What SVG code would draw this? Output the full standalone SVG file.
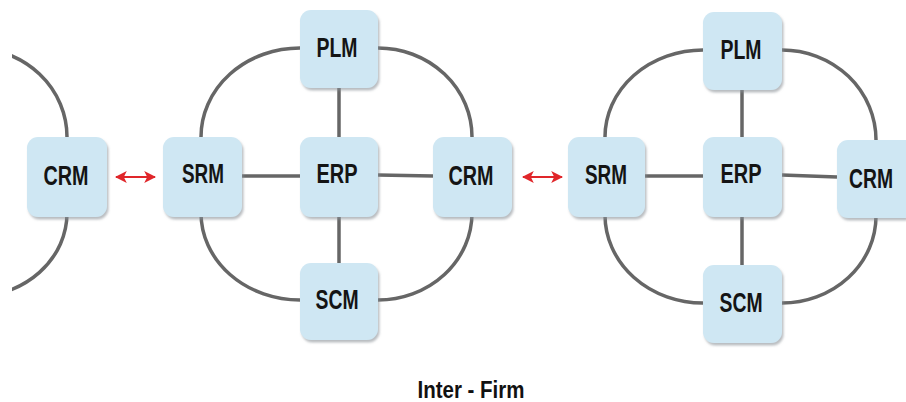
<svg xmlns="http://www.w3.org/2000/svg" width="906" height="402" viewBox="0 0 906 402">
<defs>
<style>
.box{fill:#cfe7f3;filter:url(#sh)}
.lbl{font-family:"Liberation Sans",Arial,sans-serif;font-weight:bold;font-size:27px;fill:#141414;text-anchor:middle}
.ln{fill:none;stroke:#666;stroke-width:3.5;stroke-linecap:butt}
.red{fill:none;stroke:#e0262a;stroke-width:2;marker-start:url(#ah);marker-end:url(#ah)}
.title{font-family:"Liberation Sans",Arial,sans-serif;font-weight:bold;font-size:23px;fill:#111;text-anchor:middle}
</style>
<filter id="sh" x="-10%" y="-10%" width="130%" height="130%">
<feDropShadow dx="1.5" dy="2.5" stdDeviation="1.2" flood-color="#8a9096" flood-opacity="0.6"/>
</filter>
<clipPath id="cl"><rect x="12" y="0" width="894" height="402"/></clipPath>
<marker id="ah" viewBox="0 0 10 10" refX="9" refY="5" markerWidth="6" markerHeight="6" orient="auto-start-reverse" markerUnits="strokeWidth">
<path d="M0,0 L10,5 L0,10 L2.5,5 Z" fill="#e0262a"/>
</marker>
</defs>
<rect width="906" height="402" fill="#fff"/>
<g id="connectors">
<g clip-path="url(#cl)">
<path class="ln" d="M67,137 A94,89 0 0 0 -27,48"/>
<path class="ln" d="M67,213 A94,84 0 0 1 -27,297"/>
</g>
<path class="ln" d="M201,137 A99,89 0 0 1 300,48"/>
<path class="ln" d="M378,48 A94,89 0 0 1 472,137"/>
<path class="ln" d="M472,213 A94,87 0 0 1 378,300"/>
<path class="ln" d="M300,300 A99,87 0 0 1 201,213"/>
<path class="ln" d="M242,176 L300,176"/>
<path class="ln" d="M378,175 L433,176"/>
<path class="ln" d="M339,88 L339,137"/>
<path class="ln" d="M339,216 L339,263"/>
<path class="ln" d="M605,137 A98,87 0 0 1 703,50"/>
<path class="ln" d="M782,50 A94,90 0 0 1 876,140"/>
<path class="ln" d="M876,216 A94,87 0 0 1 782,303"/>
<path class="ln" d="M703,303 A98,88 0 0 1 605,215"/>
<path class="ln" d="M645,176 L703,176"/>
<path class="ln" d="M782,175 L837,177"/>
<path class="ln" d="M742,90 L742,137"/>
<path class="ln" d="M742,216 L742,265"/>
<path class="red" d="M116,177 L155,177"/>
<path class="red" d="M523,177 L562,177"/>
</g>
<g id="crm-left"><rect class="box" x="27" y="137" width="80" height="80" rx="11"/><text class="lbl" x="66" y="185" textLength="45" lengthAdjust="spacingAndGlyphs">CRM</text></g>
<g id="srm-1"><rect class="box" x="163" y="137" width="79" height="80" rx="11"/><text class="lbl" x="203" y="183" textLength="42" lengthAdjust="spacingAndGlyphs">SRM</text></g>
<g id="plm-1"><rect class="box" x="300" y="10" width="78" height="78" rx="11"/><text class="lbl" x="337" y="57" textLength="41" lengthAdjust="spacingAndGlyphs">PLM</text></g>
<g id="erp-1"><rect class="box" x="300" y="137" width="78" height="80" rx="11"/><text class="lbl" x="337" y="183" textLength="41" lengthAdjust="spacingAndGlyphs">ERP</text></g>
<g id="crm-1"><rect class="box" x="433" y="137" width="79" height="80" rx="11"/><text class="lbl" x="471" y="185" textLength="45" lengthAdjust="spacingAndGlyphs">CRM</text></g>
<g id="scm-1"><rect class="box" x="300" y="263" width="78" height="77" rx="11"/><text class="lbl" x="337" y="309" textLength="43" lengthAdjust="spacingAndGlyphs">SCM</text></g>
<g id="srm-2"><rect class="box" x="568" y="137" width="77" height="80" rx="11"/><text class="lbl" x="606" y="184" textLength="42" lengthAdjust="spacingAndGlyphs">SRM</text></g>
<g id="plm-2"><rect class="box" x="703" y="12" width="79" height="78" rx="11"/><text class="lbl" x="741" y="59" textLength="41" lengthAdjust="spacingAndGlyphs">PLM</text></g>
<g id="erp-2"><rect class="box" x="703" y="137" width="79" height="80" rx="11"/><text class="lbl" x="741" y="183" textLength="41" lengthAdjust="spacingAndGlyphs">ERP</text></g>
<g id="crm-2"><path class="box" d="M848,140 H906 V218 H848 A11,11 0 0 1 837,207 V151 A11,11 0 0 1 848,140 Z"/><text class="lbl" x="871" y="188" font-size="26" textLength="44" lengthAdjust="spacingAndGlyphs">CRM</text></g>
<g id="scm-2"><rect class="box" x="703" y="265" width="79" height="78" rx="11"/><text class="lbl" x="741" y="312" textLength="43" lengthAdjust="spacingAndGlyphs">SCM</text></g>
<text class="title" x="471" y="398" textLength="107" lengthAdjust="spacingAndGlyphs">Inter - Firm</text>
</svg>
